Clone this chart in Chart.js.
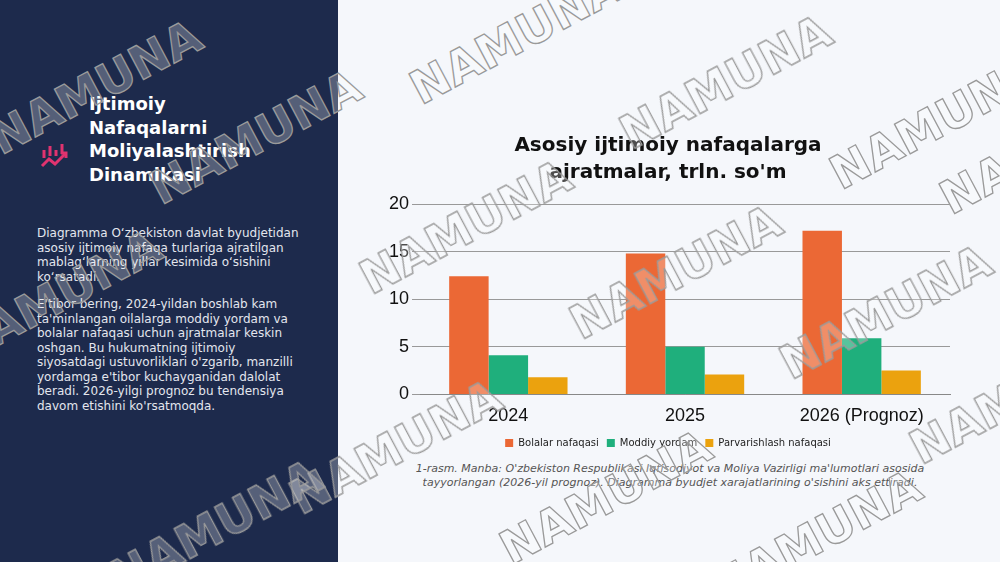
<!DOCTYPE html>
<html>
<head>
<meta charset="utf-8">
<script src="https://cdn.jsdelivr.net/npm/chart.js@4"></script>
<style>
  body { margin: 0; width: 1000px; height: 562px; overflow: hidden; font-family: "DejaVu Sans", sans-serif; background: #f5f7fb; position: relative; }
  .side { position: absolute; left: 0; top: 0; width: 338px; height: 562px; background: #1d2a4c; color: #fff; }
  .side h1 { position: absolute; left: 89px; top: 92px; margin: 0; font-size: 18px; line-height: 23.5px; font-weight: bold; width: 190px; }
  .side svg { position: absolute; left: 40px; top: 140px; }
  .side p { position: absolute; left: 37px; width: 270px; margin: 0; font-size: 12px; line-height: 14.5px; color: #e3e6ee; }
  .box { position: absolute; left: 380px; top: 126px; width: 580px; height: 332px; }
  .cap { position: absolute; left: 380px; top: 462px; width: 580px; text-align: center; font-size: 11px; font-style: italic; color: #555; line-height: 14px; }
  .wm { position: absolute; font-size: 46px; font-weight: bold; color: rgba(255,255,255,0.25); -webkit-text-stroke: 1.3px #9a9a9a; transform: rotate(-28deg); white-space: nowrap; pointer-events: none; }
</style>
</head>
<body>
<div class="side">
  <svg width="30" height="30" viewBox="0 0 30 30"><g fill="none" stroke="#e0336f" stroke-width="3"><path d="M4 10v8M10 6v10M16 10v6M22 4v10"/><path d="M2 26l7-7 6 5 11-11"/><path d="M21 13h5v5"/></g></svg>
  <h1>Ijtimoiy Nafaqalarni Moliyalashtirish Dinamikasi</h1>
  <p style="top:226px">Diagramma O‘zbekiston davlat byudjetidan asosiy ijtimoiy nafaqa turlariga ajratilgan mablag‘larning yillar kesimida o‘sishini ko‘rsatadi.</p>
  <p style="top:297px">E'tibor bering, 2024-yildan boshlab kam ta'minlangan oilalarga moddiy yordam va bolalar nafaqasi uchun ajratmalar keskin oshgan. Bu hukumatning ijtimoiy siyosatdagi ustuvorliklari o'zgarib, manzilli yordamga e'tibor kuchayganidan dalolat beradi. 2026-yilgi prognoz bu tendensiya davom etishini ko'rsatmoqda.</p>
</div>
<div class="box"><canvas id="c"></canvas></div>
<div class="cap">1-rasm. Manba: O'zbekiston Respublikasi Iqtisodiyot va Moliya Vazirligi ma'lumotlari asosida tayyorlangan (2026-yil prognoz). Diagramma byudjet xarajatlarining o'sishini aks ettiradi.</div>
<div id="wms"></div>
<script>
const years = ["2024", "2025", "2026 (Prognoz)"];
const bolalar = [12.4, 14.8, 17.2];
const moddiy = [4.1, 5.0, 5.9];
const parvarish = [1.8, 2.1, 2.5];

new Chart(document.getElementById("c"), {
  type: "bar",
  data: {
    labels: years,
    datasets: [
      { label: "Bolalar nafaqasi", data: bolalar, backgroundColor: "#eb6835" },
      { label: "Moddiy yordam", data: moddiy, backgroundColor: "#1faf7c" },
      { label: "Parvarishlash nafaqasi", data: parvarish, backgroundColor: "#eba20e" },
    ],
  },
  options: {
    responsive: true,
    maintainAspectRatio: false,
    animation: false,
    categoryPercentage: 0.67,
    barPercentage: 1,
    layout: { padding: { left: 6, right: 10 } },
    plugins: {
      title: { display: true, text: ["Asosiy ijtimoiy nafaqalarga", "ajratmalar, trln. so'm"], color: "#111", font: { size: 20, weight: "bold", family: "DejaVu Sans", lineHeight: 1.35 }, padding: { top: 6, bottom: 18 } },
      legend: { position: "bottom", labels: { boxWidth: 8, boxHeight: 8, padding: 8, color: "#222", font: { size: 10, family: "DejaVu Sans" } } },
    },
    scales: {
      y: { min: 0, max: 20, ticks: { stepSize: 5, color: "#111", font: { size: 18 } }, grid: { color: "#999" }, border: { display: false } },
      x: { ticks: { color: "#111", font: { size: 18 } }, grid: { display: false }, border: { color: "#888" } },
    },
  },
});

const wmPos = [[400,10],[610,55],[820,95],[-20,60],[140,110],[350,200],[560,245],[770,285],[-60,270],[280,420],[490,470],[700,510],[100,500],[900,370],[930,120]];
wmPos.forEach(([x, y]) => {
  const d = document.createElement("div");
  d.className = "wm";
  d.textContent = "NAMUNA";
  d.style.left = x + "px";
  d.style.top = y + "px";
  document.getElementById("wms").appendChild(d);
});
</script>
</body>
</html>
